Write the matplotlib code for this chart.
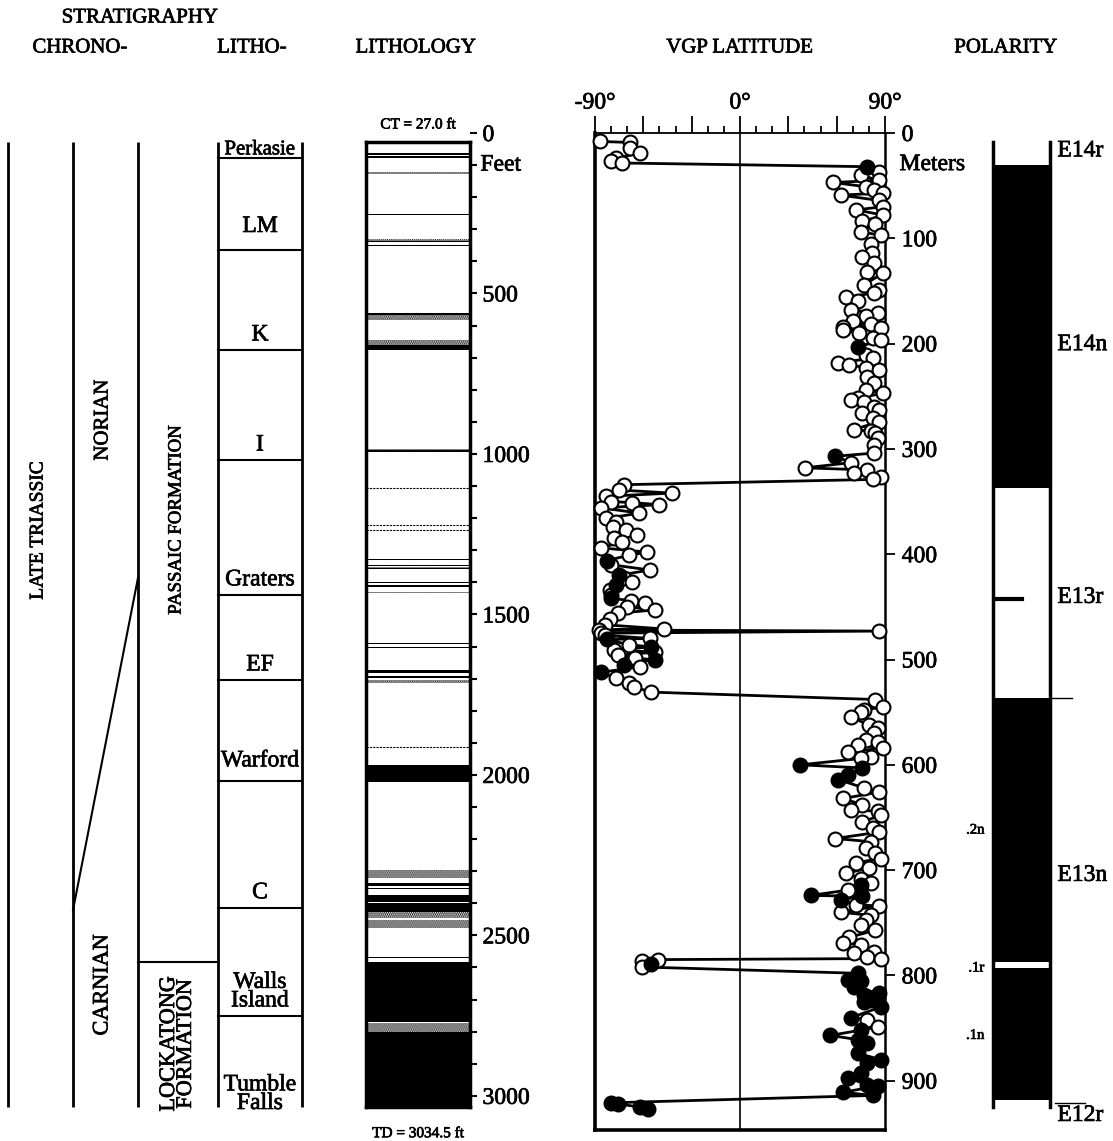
import numpy as np
import matplotlib.pyplot as plt
import matplotlib.patheffects as pe
from matplotlib.text import Text

plt.rcParams['font.family'] = ['Liberation Serif', 'DejaVu Serif']
plt.rcParams['hatch.linewidth'] = 1.2

W, H = 1113, 1141
Y0, Y1 = 133, 1130          # pixel rows of depth 0 and of the frame bottom
PX_PER_M = 1.053
M_BOT = (Y1 - Y0) / PX_PER_M
FT_BOT = M_BOT / 0.3048

# ---- core limits
CT_FT, TD_FT = 27.0, 3034.5
CT_M, TD_M = CT_FT * 0.3048, TD_FT * 0.3048

# ---- stratigraphy
members = ['Perkasie', 'LM', 'K', 'I', 'Graters', 'EF', 'Warford', 'C',
           'Walls\nIsland', 'Tumble\nFalls']
member_base_ft = [78, 364, 676, 1019, 1439, 1704, 2019, 2414, 2751, 3034.5]
nc_boundary_ft = [1386, 2421]      # Norian / Carnian (diachronous line)
lockatong_top_ft = 2583

# ---- lithology (feet)
lith_black = [(63, 68), (73, 77), (253, 257), (335, 341), (348, 352),
              (562, 566), (660, 676), (988, 994), (1326, 1330), (1345, 1349),
              (1356, 1360), (1399, 1403), (1408, 1414), (1589, 1593),
              (1600, 1605), (1673, 1682), (1692, 1698), (1969, 2022),
              (2336, 2346), (2352, 2355), (2374, 2396), (2399, 2427),
              (2567, 2572), (2582, 2769), (2800, 3034.5)]
lith_stipple = [(120, 128), (330, 335), (566, 582), (645, 660), (984, 988),
                (1352, 1356), (1430, 1434), (1704, 1713), (2296, 2321),
                (2427, 2446), (2452, 2477), (2772, 2800)]
lith_lines = [1106, 1221, 1237, 1913, 2598, 2705, 2830]

# ---- VGP latitude (depth m, latitude deg, filled symbol)
vgp_depth = [8, 9, 14, 19, 24, 27, 28.5,
             32, 37, 40, 45, 47, 51, 54, 57, 59, 64, 70, 73, 78, 84, 86, 94, 97,
             105, 114, 118, 123, 132, 133, 144, 149, 152, 156, 160, 168, 171,
             174, 179, 181, 184, 185, 187, 190, 195, 197, 203, 211, 214, 218,
             220, 223, 225, 232, 237, 244, 247, 252, 254, 255, 260, 263, 266,
             271, 274, 282, 283, 285, 290, 296, 304, 307, 313, 318, 320, 323,
             327, 329,
             334, 339, 342, 345, 350, 351, 353, 356, 361, 366, 369, 374, 377,
             382, 385, 388, 394, 398, 401, 406, 410, 415, 420, 423, 426, 429,
             434, 439, 442, 444, 446, 450, 453, 456, 462, 467, 471, 472, 473,
             475, 477, 480, 481, 486, 488, 491, 493, 496, 499, 500, 505, 507,
             512, 518, 522, 526, 531,
             538, 545, 548, 550, 555, 562, 565, 570, 576, 578, 581, 584, 588,
             593, 594, 600, 603, 610, 614, 622, 626, 632, 638, 643, 644, 648,
             654, 660, 664, 670, 673, 679, 684, 689, 693, 698, 703, 708, 712,
             714, 719, 724, 725, 728, 733, 734, 740, 743, 747, 752, 757, 764,
             769, 771, 778, 779, 783, 784,
             785, 786, 789, 792,
             798, 804, 805, 811, 817, 819, 823, 825, 830, 840, 842, 849, 852,
             857, 861, 864, 874, 880, 883, 893, 897, 904, 905, 911, 914,
             921, 922, 925, 927]
vgp_lat = [-87, -68, -68, -62, -77, -80, -73,
           79, 86, 75, 86, 58, 78, 83, 89, 62.5, 86, 89, 72, 89, 76, 84, 75, 87.5,
           81, 82, 76, 83, 79, 89, 77, 86, 83, 65.5, 73, 69, 85.5,
           78, 70, 81, 64, 87.5, 64, 74, 82.5, 87.5, 73, 78, 82.5, 61,
           67.5, 78, 86, 79, 83, 78, 89, 73, 69, 77, 83, 86, 76,
           82.5, 86, 70.5, 81, 84, 85.5, 83, 83, 59, 69, 40.5, 79, 70.5,
           87.5, 82.5,
           -72, -75, -42.5, -83, -80, -67, -50, -86, -62.5, -83, -77, -79, -70.5,
           -64, -78, -73, -86, -57.5, -69, -82.5, -80, -56, -75, -72, -67, -77,
           -81, -80, -80, -67.5, -59, -70, -53, -76, -81, -84, -47, -87.5, 86,
           -86, -84, -56, -82.5, -69, -55, -78, -52.5, -76, -65, -53, -72, -62,
           -86, -77, -69, -66, -55,
           84, 89, 77, 75, 69, 80, 85.5, 83, 78, 85.5, 73, 89, 67,
           81, 75, 37.5, 76, 67, 61, 77, 86, 64, 76, 69, 85.5, 87.5,
           76, 82.5, 86, 59, 81, 78, 84, 87.5, 72, 80, 66, 75, 81,
           75, 67, 44, 76, 62.5, 72, 86, 62.5, 81, 78, 75, 84, 67.5,
           64, 75, 83, 70.5, 79, 87.5,
           -51, -61, -55, -61,
           73, 67, 75, 70.5, 86, 77, 81, 77, 87.5, 69, 79, 85.5, 75,
           56, 73, 79, 73, 87.5, 79, 75, 67, 79, 85.5, 64, 82.5,
           -80, -76, -62, -57]
vgp_filled_depths = [32, 203, 307, 406, 420, 429, 442, 481, 488, 500, 505, 512,
                     600, 603, 610, 614, 714, 724, 725, 728, 789,
                     798, 804, 805, 811, 817, 819, 823, 825, 830, 840, 852, 857,
                     861, 864, 874, 880, 883, 893, 897, 904, 905, 911, 914,
                     921, 922, 925, 927]

# ---- polarity (m)
pol_bounds = [CT_M, 30, 337, 537, 787, 793, 918, TD_M]
pol_normal = [0, 1, 0, 1, 0, 1, 0]
chron_names = ['E14r', 'E14n', 'E13r', 'E13n', 'E12r']
chron_label_m = [17, 201, 441, 705, 933]
sub_names = ['.2n', '.1r', '.1n']
sub_label_m = [662, 793, 857]
pol_tick_m = 443


def box(x0, x1, y0=Y0, y1=Y1):
    return [x0 / W, 1 - y1 / H, (x1 - x0) / W, (y1 - y0) / H]


fig = plt.figure(figsize=(W / 100, H / 100), dpi=100)
FS = 15      # headers
FL = 17      # labels inside the panels and tick labels

# headers
for s, x, y in [('STRATIGRAPHY', 140, 18), ('CHRONO-', 80, 48), ('LITHO-', 252, 48),
                ('LITHOLOGY', 416, 48), ('VGP LATITUDE', 740, 48), ('POLARITY', 1006, 48)]:
    fig.text(x / W, 1 - y / H, s, ha='center', va='center', fontsize=FS)

# ---------------- stratigraphy column
ax_s = fig.add_axes(box(0, 330))
ax_s.set_xlim(0, 330)
ax_s.set_ylim(FT_BOT, 0)
ax_s.axis('off')
for x in [8, 73, 138, 218, 302]:
    ax_s.plot([x, x], [CT_FT, TD_FT], color='k', lw=2, solid_capstyle='butt')
ax_s.plot([138, 73], nc_boundary_ft, color='k', lw=1.5)
ax_s.plot([138, 218], [lockatong_top_ft] * 2, color='k', lw=1.5)
for b in member_base_ft[:-1]:
    ax_s.plot([218, 302], [b, b], color='k', lw=1.5)
tops = [CT_FT] + member_base_ft[:-1]
label_gap_ft = [0, 40, 14, 14, 14, 14, 30, 14, 14, -22]
for name, top, base, gap in zip(members, tops, member_base_ft, label_gap_ft):
    if name == 'Perkasie':
        ax_s.text(260, (top + base) / 2, name, ha='center', va='center', fontsize=15)
    else:
        ax_s.text(260, base - gap, name, ha='center', va='bottom', fontsize=FL,
                  linespacing=0.85)
ax_s.text(38, 1237, 'LATE TRIASSIC', rotation=90, ha='center', va='center', fontsize=14)
ax_s.text(103, 894, 'NORIAN', rotation=90, ha='center', va='center', fontsize=15)
ax_s.text(103, 2654, 'CARNIAN', rotation=90, ha='center', va='center', fontsize=16)
ax_s.text(176, 1206, 'PASSAIC FORMATION', rotation=90, ha='center', va='center', fontsize=13.5)
ax_s.text(178, 2838, 'LOCKATONG\nFORMATION', rotation=90, ha='center', va='center',
          fontsize=16, linespacing=0.85)

# ---------------- lithology column
ax_l = fig.add_axes(box(366, 470))
ax_l.set_xlim(0, 1)
ax_l.set_ylim(FT_BOT, 0)
for sp in ax_l.spines.values():
    sp.set_visible(False)
ax_l.set_xticks([])
ax_l.yaxis.tick_right()
ax_l.set_yticks(np.arange(0, 3001, 500))
ax_l.set_yticks(np.arange(0, 3001, 100), minor=True)
ax_l.tick_params(axis='y', which='both', direction='out', length=5, width=1.5,
                 labelsize=FL, pad=4)
for a, b in lith_stipple:
    ax_l.axhspan(a, b, facecolor='white', edgecolor='0.1', hatch='........', lw=0)
for a, b in lith_black:
    ax_l.axhspan(a, b, color='k', lw=0)
for y in lith_lines:
    ax_l.axhline(y, color='k', lw=0.8, ls=(0, (2, 1)))
for x in [0, 1]:
    ax_l.plot([x, x], [CT_FT, TD_FT], color='k', lw=2.5, clip_on=False)
for y in [CT_FT, TD_FT]:
    ax_l.plot([0, 1], [y, y], color='k', lw=2.5, clip_on=False)
ax_l.text(1.1, 100, 'Feet', transform=ax_l.get_yaxis_transform(), va='center', fontsize=FL)
ax_l.text(0.5, -25, 'CT = 27.0 ft', ha='center', va='center', fontsize=11)
ax_l.text(0.5, 3118, 'TD = 3034.5 ft', ha='center', va='center', fontsize=11)

# ---------------- VGP latitude
ax_v = fig.add_axes(box(595, 885))
ax_v.set_xlim(-90, 90)
ax_v.set_ylim(M_BOT, 0)
ax_v.xaxis.tick_top()
ax_v.set_xticks([-90, -60, -30, 0, 30, 60, 90])
ax_v.set_xticklabels(['-90°', '', '', '0°', '', '', '90°'])
ax_v.set_xticks(np.arange(-90, 91, 10), minor=True)
ax_v.tick_params(axis='x', which='major', direction='out', length=12, width=1.3,
                 labelsize=FL, pad=2)
ax_v.tick_params(axis='x', which='minor', direction='out', length=5, width=1.3)
ax_v.yaxis.tick_right()
ax_v.set_yticks(np.arange(0, 901, 100))
ax_v.set_yticklabels(['0'] + [str(v) for v in range(100, 901, 100)])
ax_v.tick_params(axis='y', direction='out', length=7, width=1.3, labelsize=FL, pad=5)
ax_v.spines['left'].set_linewidth(2.6)
ax_v.spines['bottom'].set_linewidth(2.6)
ax_v.spines['right'].set_linewidth(1.8)
ax_v.spines['top'].set_linewidth(1.3)
ax_v.axvline(0, color='k', lw=1.2, zorder=1)
ax_v.plot(vgp_lat, vgp_depth, color='k', lw=2, zorder=2, clip_on=False)
d = np.array(vgp_depth)
la = np.array(vgp_lat)
filled = np.isin(d, vgp_filled_depths)
ax_v.plot(la[~filled], d[~filled], 'o', ms=10, mfc='white', mec='k', mew=1.5,
          zorder=3, clip_on=False)
ax_v.plot(la[filled], d[filled], 'o', ms=10, mfc='k', mec='k', mew=1.5,
          zorder=4, clip_on=False)
ax_v.text(1.05, 30, 'Meters', transform=ax_v.get_yaxis_transform(), va='center',
          fontsize=FL)

# ---------------- polarity column
ax_p = fig.add_axes(box(993, 1050))
ax_p.set_xlim(0, 1)
ax_p.set_ylim(M_BOT, 0)
ax_p.axis('off')
for top, bot, n in zip(pol_bounds[:-1], pol_bounds[1:], pol_normal):
    if n:
        ax_p.axhspan(top, bot, color='k', lw=0)
for x in [0, 1]:
    ax_p.plot([x, x], [CT_M, TD_M], color='k', lw=2.5, clip_on=False)
ax_p.plot([0, 0.5], [pol_tick_m] * 2, color='k', lw=3)
tr = ax_p.get_yaxis_transform()
for name, m in zip(chron_names, chron_label_m):
    ax_p.text(1.13, m, name, transform=tr, va='center', fontsize=FL)
for name, m in zip(sub_names, sub_label_m):
    ax_p.text(-0.15, m, name, transform=tr, va='center', ha='right', fontsize=10.5)
ax_p.plot([1.08, 1.62], [921, 921], transform=tr, color='k', lw=1, clip_on=False)
ax_p.plot([1.03, 1.38], [537, 537], transform=tr, color='k', lw=1, clip_on=False)

# slightly heavier glyphs, like the printed original
for t in fig.findobj(Text):
    t.set_path_effects([pe.withStroke(linewidth=0.5, foreground='k')])

fig.savefig('out.png', dpi=100)
